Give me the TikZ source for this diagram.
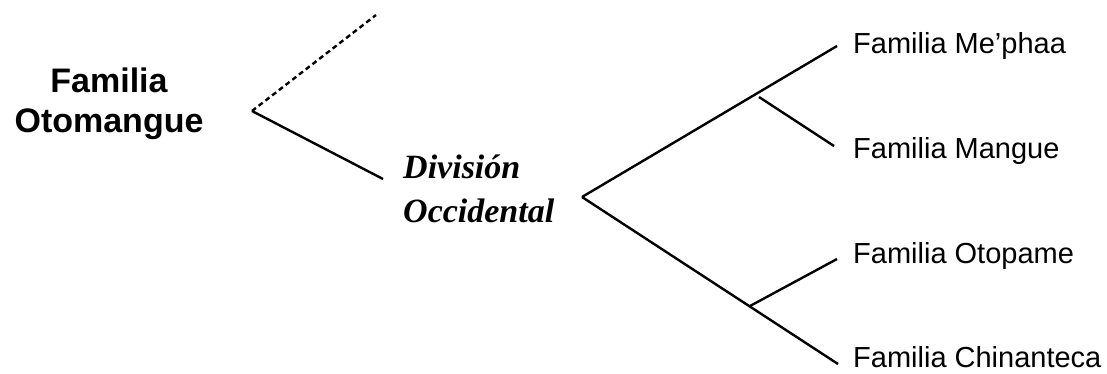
\documentclass[tikz,border=0pt]{standalone}
\usepackage{fontspec}
\setmainfont{Liberation Sans}
\newfontfamily\divfont{Liberation Serif}
\usetikzlibrary{positioning, calc}

\begin{document}
\begin{tikzpicture}[x=1pt, y=-1pt,
    branch/.style={line width=2.4pt},
    leaf/.style={anchor=base west, inner sep=0pt, font=\fontsize{29}{34}\selectfont}]
  \useasboundingbox (0,0) rectangle (1107,373);

  % grupo principal
  \node[align=center, anchor=base, inner sep=0pt, font=\fontsize{34}{40}\selectfont\bfseries] (otomangue) at (109,132) {Familia\\Otomangue};
  \coordinate (root) at (252,111);
  \coordinate (upper) at (376,15);
  \draw[branch, dash pattern=on 5pt off 3.5pt] (root) -- (upper);

  \node[align=left, anchor=base west, inner sep=0pt, font=\fontsize{34}{44}\selectfont\divfont\bfseries\itshape] (division) at (403,222) {Divisi\'on\\Occidental};
  \coordinate (divin) at (383,179);
  \coordinate (divout) at (582,197);
  \draw[branch] (root) -- (divin);

  % familias
  \node[leaf] (mephaa) at (853,53) {Familia Me’phaa};
  \node[leaf] (mangue) at (853,158) {Familia Mangue};
  \node[leaf] (otopame) at (853,263) {Familia Otopame};
  \node[leaf] (chinanteca) at (853,367) {Familia Chinanteca};

  \draw[branch] (divout) -- ($(mephaa.base west)+(-16,-7)$);
  \draw[branch] (divout) -- ($(chinanteca.base west)+(-15,-3)$);
  \coordinate (knotA) at (759,97);
  \coordinate (knotB) at (750,306);
  \draw[branch] (knotA) -- ($(mangue.base west)+(-19,-12)$);
  \draw[branch] (knotB) -- ($(otopame.base west)+(-16,-4)$);
\end{tikzpicture}
\end{document}
